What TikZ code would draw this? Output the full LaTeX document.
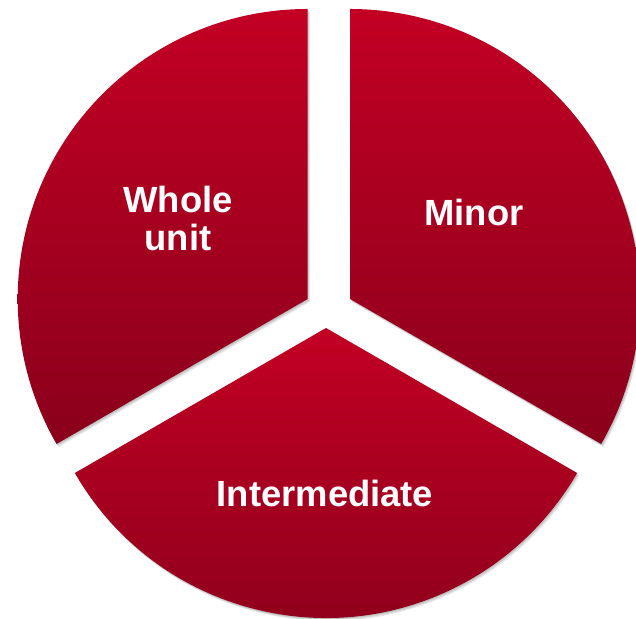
\documentclass[tikz,border=0pt]{standalone}
\usepackage{fontspec}
\setmainfont{Liberation Sans}
\usepackage{tikz}
\usetikzlibrary{calc}
\definecolor{pietop}{RGB}{194,0,36}
\definecolor{piebot}{RGB}{138,0,27}
\tikzset{
  wedge/.style={top color=pietop,bottom color=piebot,draw=none},
  wedgeshadow/.style={fill=black,opacity=.09,draw=none},
  slicelabel/.style={text=white,font=\fontsize{18.2}{19}\selectfont\bfseries,
    align=center,inner sep=0pt}
}

\begin{document}
\begin{tikzpicture}[x=.5pt,y=.5pt]
\useasboundingbox (0,0) rectangle (636,619);
\clip (0,0) rectangle (636,619);

% soft shadows
\foreach \s in {1,2,3} {
  \fill[wedgeshadow,shift={(\s*.7,-\s)}] (307.7,320) -- ++(90:290)
    arc[start angle=90,end angle=210,radius=290] -- cycle;
  \fill[wedgeshadow,shift={(\s*.7,-\s)}] (350,320) -- ++(-30:290)
    arc[start angle=-30,end angle=90,radius=290] -- cycle;
  \fill[wedgeshadow,shift={(\s*.7,-\s)}] (326,291) -- ++(210:290)
    arc[start angle=210,end angle=330,radius=290] -- cycle;
}

% slices
\path[wedge] (307.7,320) -- ++(90:290)
  arc[start angle=90,end angle=210,radius=290] -- cycle;
\path[wedge] (350,320) -- ++(-30:290)
  arc[start angle=-30,end angle=90,radius=290] -- cycle;
\path[wedge] (326,291) -- ++(210:290)
  arc[start angle=210,end angle=330,radius=290] -- cycle;

\node[slicelabel] (whole) at (178,400) {Whole\\unit};
\node[slicelabel] (minor) at (474,406) {Minor};
\node[slicelabel] (inter) at (325,126) {Intermediate};
\end{tikzpicture}
\end{document}
